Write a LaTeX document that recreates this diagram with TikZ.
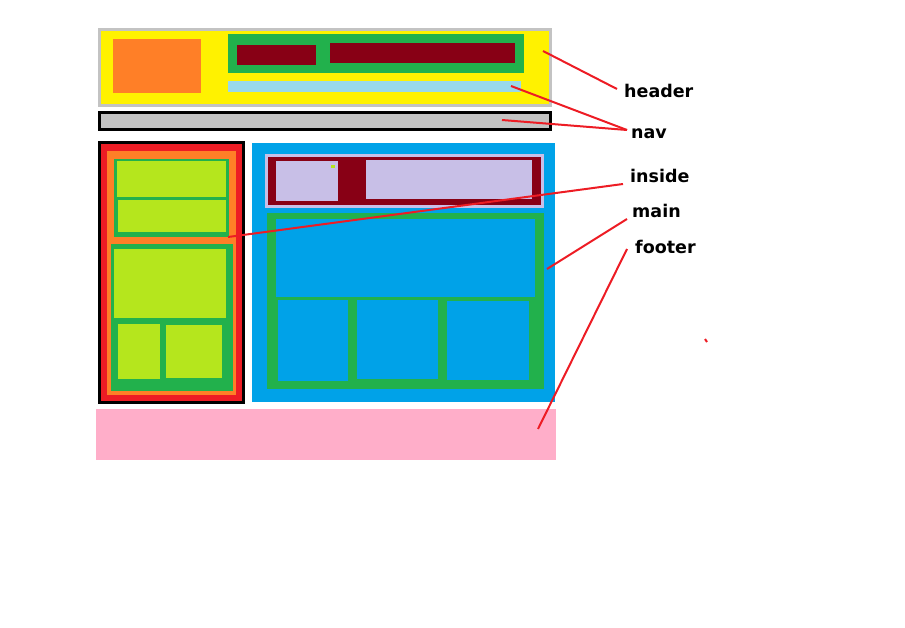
\documentclass[tikz,border=0pt]{standalone}
\usepackage{fontspec}
\setmainfont{DejaVu Sans}
\definecolor{pgray}{HTML}{C3C3C3}
\definecolor{pyellow}{HTML}{FFF200}
\definecolor{porange}{HTML}{FF7F27}
\definecolor{pgreen}{HTML}{22B14C}
\definecolor{pmaroon}{HTML}{880015}
\definecolor{plblue}{HTML}{99D9EA}
\definecolor{pred}{HTML}{ED1C24}
\definecolor{plime}{HTML}{B5E61D}
\definecolor{pblue}{HTML}{00A2E8}
\definecolor{plav}{HTML}{C8BFE7}
\definecolor{ppink}{HTML}{FFAEC9}
\begin{document}
\begin{tikzpicture}[x=1pt, y=-1pt,
      blk/.style={rectangle, draw=none, inner sep=0pt, outer sep=0pt, anchor=north west},
      lbl/.style={anchor=base west, inner sep=0pt, font=\fontsize{17.5}{20}\selectfont\bfseries},
      lnk/.style={draw=pred, line width=2pt}
    ]
    \useasboundingbox (0,0) rectangle (905,628);

    % header
    \node[blk, fill=pyellow, draw=pgray, line width=3pt, minimum width=451pt, minimum height=76pt] (H0) at (99.5,29.5) {};
    \node[blk, fill=porange, minimum width=88pt, minimum height=54pt] (H1) at (113,39) {};
    \node[blk, fill=pgreen, minimum width=296pt, minimum height=39pt] (H2) at (228,34) {};
    \node[blk, fill=pmaroon, minimum width=79pt, minimum height=20pt] (H3) at (237,45) {};
    \node[blk, fill=pmaroon, minimum width=185pt, minimum height=20pt] (H4) at (330,43) {};
    \node[blk, fill=plblue, minimum width=293pt, minimum height=11pt] (H5) at (228,81) {};

    % nav
    \node[blk, fill=pgray, draw=black, line width=3pt, minimum width=451pt, minimum height=17.5pt] (N0) at (99.5,112.5) {};

    % inside
    \node[blk, fill=pred, draw=black, line width=3pt, minimum width=144pt, minimum height=260pt] (I0) at (99.5,142.5) {};
    \node[blk, fill=porange, minimum width=129pt, minimum height=244pt] (I1) at (107,151) {};
    \node[blk, fill=pgreen, minimum width=115pt, minimum height=78pt] (I2) at (114,159) {};
    \node[blk, fill=plime, minimum width=109pt, minimum height=36pt] (I3) at (117,161) {};
    \node[blk, fill=plime, minimum width=108pt, minimum height=32pt] (I4) at (118,200) {};
    \node[blk, fill=pgreen, minimum width=122pt, minimum height=147pt] (I5) at (111,244) {};
    \node[blk, fill=plime, minimum width=112pt, minimum height=69pt] (I6) at (114,249) {};
    \node[blk, fill=plime, minimum width=42pt, minimum height=55pt] (I7) at (118,324) {};
    \node[blk, fill=plime, minimum width=56pt, minimum height=53pt] (I8) at (166,325) {};

    % main
    \node[blk, fill=pblue, minimum width=303pt, minimum height=259pt] (M0) at (252,143) {};
    \node[blk, fill=plav, minimum width=279pt, minimum height=54pt] (M1) at (265,154) {};
    \node[blk, fill=pmaroon, minimum width=273pt, minimum height=48pt] (M2) at (268,157) {};
    \node[blk, fill=plav, minimum width=62pt, minimum height=40pt] (M3) at (276,161) {};
    \node[blk, fill=plav, minimum width=166pt, minimum height=39pt] (M4) at (366,160) {};
    \node[blk, fill=plime, minimum width=4pt, minimum height=3pt] (M5) at (331,165) {};
    \node[blk, fill=pgreen, minimum width=277pt, minimum height=176pt] (M6) at (267,213) {};
    \node[blk, fill=pblue, minimum width=259pt, minimum height=78pt] (M7) at (276,219) {};
    \node[blk, fill=pblue, minimum width=70pt, minimum height=81pt] (M8) at (278,300) {};
    \node[blk, fill=pblue, minimum width=81pt, minimum height=79pt] (M9) at (357,300) {};
    \node[blk, fill=pblue, minimum width=82pt, minimum height=79pt] (M10) at (447,301) {};

    % footer
    \node[blk, fill=ppink, minimum width=460pt, minimum height=51pt] (F0) at (96,409) {};

    % labels
    \node[lbl] (Lhdr) at (624,98) {header};
    \node[lbl] (Lnav) at (631,139) {nav};
    \node[lbl] (Lins) at (630,183) {inside};
    \node[lbl] (Lmain) at (632,218) {main};
    \node[lbl] (Lftr) at (635,254) {footer};

    \coordinate (Thdr) at (617,89);
    \coordinate (Tnav) at (627,130);
    \coordinate (Tins) at (623,184);
    \coordinate (Tmain) at (627,219);
    \coordinate (Tftr) at (627,249);
    \coordinate (Phdr) at (543,51);
    \coordinate (Pnav1) at (511,86);
    \coordinate (Pnav2) at (502,120);
    \coordinate (Pins) at (228,237);
    \coordinate (Pmain) at (547,269);
    \coordinate (Pftr) at (538,429);
    \coordinate (S0) at (705,339);
    \coordinate (S1) at (707,342);

    \draw[lnk] (Thdr) -- (Phdr);
    \draw[lnk] (Tnav) -- (Pnav1);
    \draw[lnk] (Tnav) -- (Pnav2);
    \draw[lnk] (Tins) -- (Pins);
    \draw[lnk] (Tmain) -- (Pmain);
    \draw[lnk] (Tftr) -- (Pftr);
    \draw[lnk] (S0) -- (S1);

    \end{tikzpicture}
\end{document}
